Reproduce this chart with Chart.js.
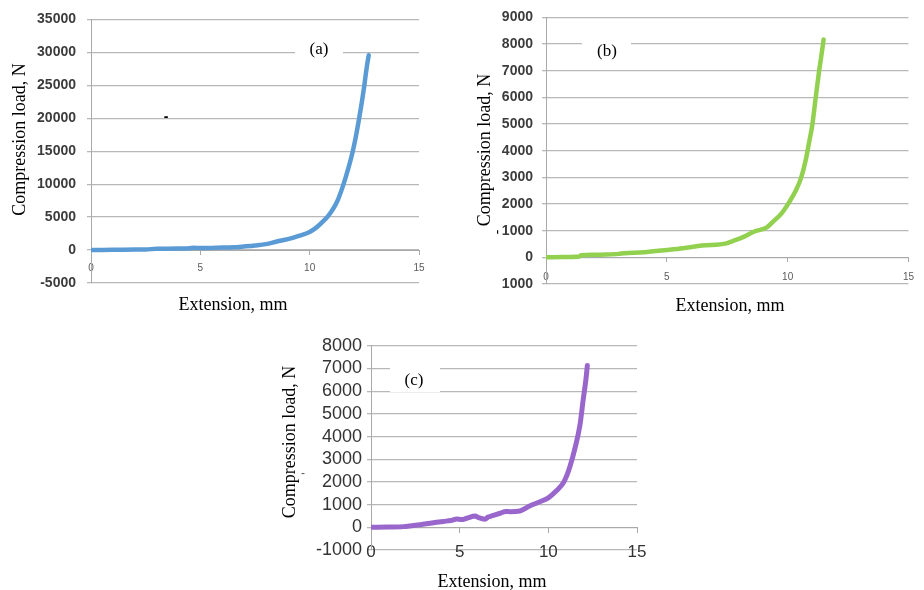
<!DOCTYPE html>
<html><head><meta charset="utf-8">
<script src="https://cdn.jsdelivr.net/npm/chart.js@4.4.1/dist/chart.umd.min.js"></script>
<style>
html,body{margin:0;padding:0;background:#fff;width:924px;height:590px;overflow:hidden;}
canvas{position:absolute;}
</style></head><body>
<canvas id="ca" width="460" height="320" style="left:0px;top:0px"></canvas>
<canvas id="cb" width="464" height="320" style="left:460px;top:0px"></canvas>
<canvas id="cc" width="400" height="260" style="left:270px;top:330px"></canvas>
<script>
// ---- data ----
const xTickValues = [0, 5, 10, 15];

const extA  = [0,0.5,1,1.5,2,2.5,3,3.5,4,4.5,4.7,5,5.5,6,6.5,7,7.5,8,8.5,9,9.5,10,10.3,10.6,10.85,11.1,11.3,11.55,11.75,11.95,12.1,12.25,12.4,12.5,12.6,12.7];
const loadA = [0,20,40,60,80,100,180,200,230,280,350,300,330,370,420,550,700,900,1300,1650,2150,2750,3400,4300,5200,6400,7700,10000,12200,14700,17000,19750,22750,25000,27500,29550];
const yTickLabelsA = ['-5000','0','5000','10000','15000','20000','25000','30000','35000'];

const extB  = [0,0.7,1.37,1.45,2,2.5,3,3.24,4.05,5,5.66,6.46,7.47,7.67,8.2,8.6,9.14,9.4,9.75,10.08,10.35,10.55,10.75,10.88,11.02,11.15,11.29,11.39,11.49];
const loadB = [0,10,30,80,100,110,130,150,190,275,340,440,525,590,775,960,1125,1340,1650,2090,2525,2960,3650,4275,4960,5900,6900,7525,8175];
const yTickLabelsB = ['1000','0','1000','2000','3000','4000','5000','6000','7000','8000','9000'];

const extC  = [0,1,1.84,2.3,2.78,3.34,3.7,4.09,4.5,4.84,5.1,5.4,5.87,6.06,6.43,6.6,6.8,7.28,7.6,7.84,8.4,8.97,9.53,10,10.47,10.84,11.05,11.22,11.5,11.78,11.97,12.12,12.2];
const loadC = [0,10,30,70,115,180,220,260,300,370,340,400,500,430,360,450,500,620,700,690,720,950,1130,1300,1620,1950,2300,2680,3480,4490,5650,6520,7130];
const yTickLabelsC = ['-1000','0','1000','2000','3000','4000','5000','6000','7000','8000'];

const panelLabels = ['(a)', '(b)', '(c)'];
const xTitle = 'Extension, mm';
const yTitle = 'Compression load, N';

// ---- plugin for labels/titles ----
const annot = {
  id: 'annot',
  beforeDatasetsDraw(chart, args, o) {
    const ctx = chart.ctx;
    ctx.save();
    (o.boxes || []).forEach(b => { ctx.fillStyle = '#fff'; ctx.fillRect(b[0], b[1], b[2], b[3]); });
    ctx.restore();
  },
  afterDraw(chart, args, o) {
    const ctx = chart.ctx;
    (o.texts || []).forEach(t => {
      ctx.save();
      ctx.fillStyle = t.color || '#000';
      ctx.font = t.font;
      ctx.translate(t.x, t.y);
      if (t.rot) ctx.rotate(t.rot);
      ctx.textAlign = 'center';
      ctx.textBaseline = 'alphabetic';
      ctx.fillText(t.text, 0, 0);
      ctx.restore();
    });
  }
};

const serif = '"Liberation Serif", "Times New Roman", serif';
const sans = '"Liberation Sans", Arial, sans-serif';
const gridCol = '#b8b8b8';
const axisCol = '#a9a9a9';

function makeChart(id, ext, load, color, lw, cfg) {
  const pts = ext.map((x, i) => ({x: x, y: load[i]}));
  return new Chart(document.getElementById(id), {
    type: 'scatter',
    data: { datasets: [{ data: pts, showLine: true, borderColor: color, backgroundColor: color,
      borderWidth: lw, pointRadius: 0, cubicInterpolationMode: 'monotone', borderCapStyle: 'round' }] },
    options: {
      responsive: false, animation: false, devicePixelRatio: 1,
      layout: { padding: cfg.padding },
      plugins: { legend: { display: false }, tooltip: { enabled: false }, title: { display: false },
        annot: { boxes: cfg.boxes, texts: cfg.texts } },
      scales: {
        x: {
          type: 'linear', min: 0, max: 15, position: { y: 0 },
          afterBuildTicks: s => { s.ticks = xTickValues.map(v => ({value: v})); },
          grid: { drawOnChartArea: false, drawTicks: true, tickLength: cfg.xTickLen, color: axisCol },
          border: { display: true, color: axisCol, width: 1 },
          ticks: { font: cfg.xFont, color: cfg.xColor, padding: cfg.xPad, maxRotation: 0, autoSkip: false }
        },
        y: {
          type: 'linear', min: cfg.ymin, max: cfg.ymax, position: 'left',
          afterFit: s => { s.width = cfg.yWidth; },
          grid: { color: gridCol, lineWidth: 1.3, tickLength: 4, drawTicks: true },
          border: { display: true, color: axisCol, width: 1 },
          ticks: { stepSize: cfg.ystep, autoSkip: false, font: cfg.yFont, color: cfg.yColor, padding: cfg.yPad,
            callback: (v, i) => cfg.yLabels[i] }
        }
      }
    },
    plugins: [annot]
  });
}

makeChart('ca', extA, loadA, '#5b9bd5', 4.5, {
  padding: {top: 17, right: 41, bottom: 37, left: 0},
  ymin: -5000, ymax: 35000, ystep: 5000, yLabels: yTickLabelsA, yWidth: 91, yPad: 11,
  yFont: {family: sans, size: 14, weight: 'bold'}, yColor: '#3c3c3c',
  xFont: {family: sans, size: 10}, xColor: '#5a5a5a', xPad: 8, xTickLen: 4,
  boxes: [[295, 40, 48, 18]],
  texts: [
    {text: panelLabels[0], x: 319, y: 54, font: '17px ' + serif},
    {text: yTitle, x: 25, y: 139.5, rot: -Math.PI / 2, font: '18px ' + serif},
    {text: xTitle, x: 233, y: 310, font: '18px ' + serif},
    {text: '-', x: 166, y: 121, font: 'bold 14px ' + sans}
  ]
});

makeChart('cb', extB, loadB, '#92d050', 4.5, {
  padding: {top: 17, right: 5, bottom: 36, left: 0},
  ymin: -1000, ymax: 9000, ystep: 1000, yLabels: yTickLabelsB, yWidth: 86, yPad: 9,
  yFont: {family: sans, size: 14, weight: 'bold'}, yColor: '#3c3c3c',
  xFont: {family: sans, size: 10}, xColor: '#5a5a5a', xPad: 10, xTickLen: 4,
  boxes: [[122, 35, 49, 18]],
  texts: [
    {text: panelLabels[1], x: 147, y: 55.5, font: '17px ' + serif},
    {text: yTitle, x: 30, y: 150, rot: -Math.PI / 2, font: '18px ' + serif},
    {text: xTitle, x: 270, y: 311, font: '18px ' + serif},
    {text: '-', x: 42, y: 232, rot: -Math.PI / 2, font: '14px ' + sans}
  ]
});

makeChart('cc', extC, loadC, '#9966cc', 5, {
  padding: {top: 13, right: 33, bottom: 40, left: 0},
  ymin: -1000, ymax: 8000, ystep: 1000, yLabels: yTickLabelsC, yWidth: 101, yPad: 5,
  yFont: {family: sans, size: 18}, yColor: '#333333',
  xFont: {family: sans, size: 17}, xColor: '#333333', xPad: 10, xTickLen: 5,
  boxes: [[120, 32, 50, 30]],
  texts: [
    {text: panelLabels[2], x: 144, y: 55, font: '17px ' + serif},
    {text: yTitle, x: 25, y: 112, rot: -Math.PI / 2, font: '18px ' + serif},
    {text: xTitle, x: 222, y: 257, font: '18px ' + serif},
    {text: '-', x: 33, y: 147, font: '12px ' + sans, color: '#555'}
  ]
});
</script>
</body></html>
